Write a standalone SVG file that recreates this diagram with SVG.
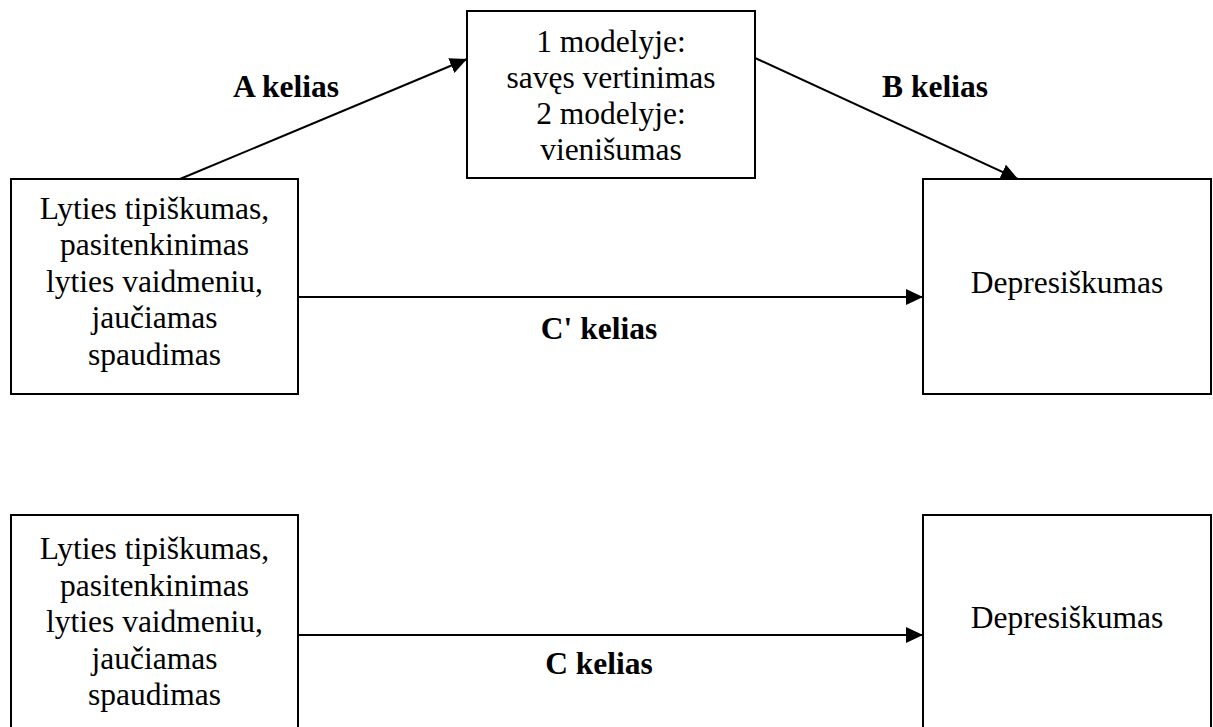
<svg xmlns="http://www.w3.org/2000/svg" width="1213" height="727" viewBox="0 0 1213 727">
<style>
.box{fill:#fff;stroke:#000;stroke-width:2}
.t{font-family:"Liberation Serif","Times New Roman",serif;font-size:31.5px;fill:#000;text-anchor:middle}
.lbl{font-family:"Liberation Serif","Times New Roman",serif;font-size:31.5px;font-weight:bold;fill:#000;text-anchor:middle}
.edge{stroke:#000;stroke-width:2;fill:none;marker-end:url(#ah)}
</style>
<defs>
<marker id="ah" markerUnits="userSpaceOnUse" markerWidth="18" markerHeight="16" refX="17" refY="8" orient="auto">
<path d="M0,0 L17,8 L0,16 Z" fill="#000"/>
</marker>
</defs>
<rect width="1213" height="727" fill="#fff"/>
<g id="connectors">
<line class="edge" x1="180" y1="179" x2="467" y2="59"/>
<line class="edge" x1="755" y1="58" x2="1018" y2="179"/>
<line class="edge" x1="298" y1="297" x2="923" y2="297"/>
<line class="edge" x1="298" y1="635" x2="923" y2="635"/>
<text class="lbl" x="286" y="97">A kelias</text>
<text class="lbl" x="935" y="97">B kelias</text>
<text class="lbl" x="599" y="339">C' kelias</text>
<text class="lbl" x="599" y="674">C kelias</text>
</g>
<g id="node-mediator">
<rect class="box" x="467" y="11" width="288" height="167"/>
<text class="t" x="611" y="52">1 modelyje:</text>
<text class="t" x="611" y="88">savęs vertinimas</text>
<text class="t" x="611" y="124">2 modelyje:</text>
<text class="t" x="611" y="160">vienišumas</text>
</g>
<g id="node-predictor1">
<rect class="box" x="11" y="179" width="287" height="215"/>
<text class="t" x="154.5" y="219">Lyties tipiškumas,</text>
<text class="t" x="154.5" y="255">pasitenkinimas</text>
<text class="t" x="154.5" y="292">lyties vaidmeniu,</text>
<text class="t" x="154.5" y="328">jaučiamas</text>
<text class="t" x="154.5" y="365">spaudimas</text>
</g>
<g id="node-outcome1">
<rect class="box" x="923" y="179" width="288" height="215"/>
<text class="t" x="1067" y="293">Depresiškumas</text>
</g>
<g id="node-predictor2">
<rect class="box" x="11" y="515" width="287" height="225"/>
<text class="t" x="154.5" y="559">Lyties tipiškumas,</text>
<text class="t" x="154.5" y="596">pasitenkinimas</text>
<text class="t" x="154.5" y="632">lyties vaidmeniu,</text>
<text class="t" x="154.5" y="669">jaučiamas</text>
<text class="t" x="154.5" y="705">spaudimas</text>
</g>
<g id="node-outcome2">
<rect class="box" x="923" y="515" width="288" height="225"/>
<text class="t" x="1067" y="628">Depresiškumas</text>
</g>
</svg>
